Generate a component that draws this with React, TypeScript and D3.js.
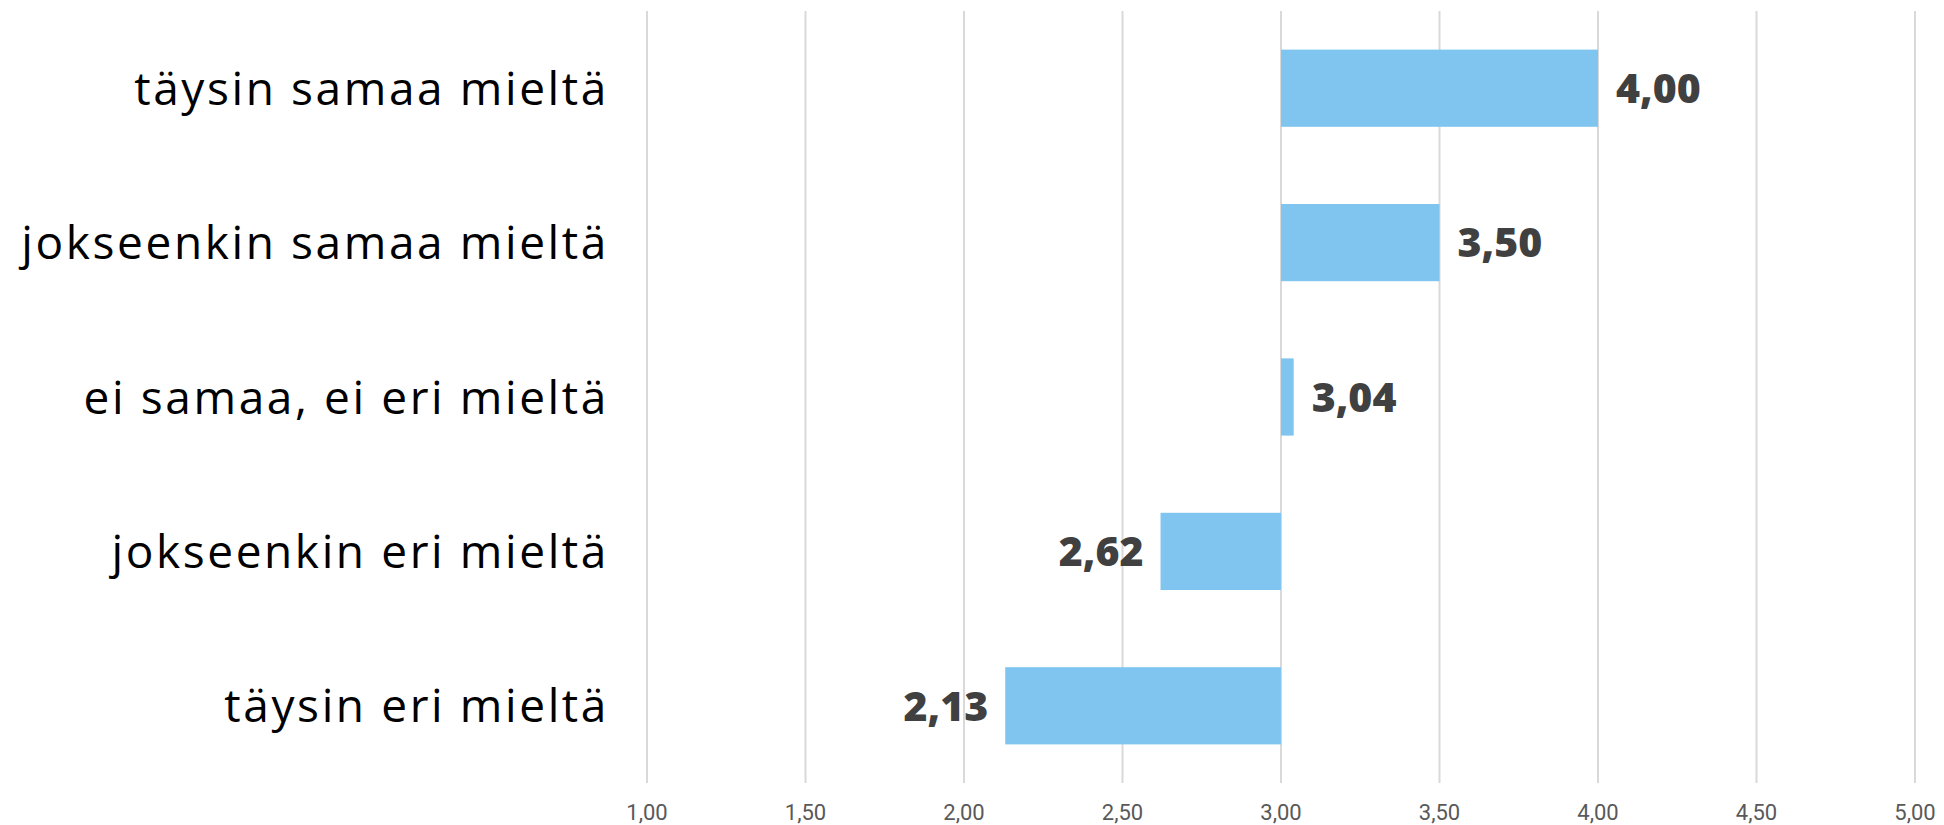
import React from "react";
import * as d3 from "d3";

const categories = [
  "täysin samaa mieltä",
  "jokseenkin samaa mieltä",
  "ei samaa, ei eri mieltä",
  "jokseenkin eri mieltä",
  "täysin eri mieltä",
];
const values = [4.0, 3.5, 3.04, 2.62, 2.13];
const baseline = 3.0;
const xTicks = [1.0, 1.5, 2.0, 2.5, 3.0, 3.5, 4.0, 4.5, 5.0];

const W = 1944;
const H = 825;
const plotLeft = 647;
const plotRight = 1915;
const plotTop = 11;
const plotBottom = 783;

const fmt = (v: number) => d3.format(".2f")(v).replace(".", ",");

export default function App() {
  const x = d3.scaleLinear().domain([1, 5]).range([plotLeft, plotRight]);
  const y = d3
    .scaleBand<string>()
    .domain(categories)
    .range([plotTop, plotBottom])
    .paddingInner(0.5)
    .paddingOuter(0.25);

  return (
    <svg
      width={W}
      height={H}
      style={{ position: "absolute", left: 0, top: 0, background: "#fff" }}
    >
      {xTicks.map((t) => (
        <line
          key={"g" + t}
          x1={x(t)}
          x2={x(t)}
          y1={plotTop}
          y2={plotBottom}
          stroke="#d9d9d9"
          strokeWidth={2}
        />
      ))}
      {xTicks.map((t) => (
        <text
          key={"t" + t}
          x={x(t)}
          y={820}
          textAnchor="middle"
          fontFamily="Roboto, 'Open Sans', sans-serif"
          fontSize={22}
          fill="#595959"
        >
          {fmt(t)}
        </text>
      ))}
      {categories.map((c, i) => {
        const v = values[i];
        const x0 = x(Math.min(v, baseline));
        const x1 = x(Math.max(v, baseline));
        const yc = (y(c) as number) + y.bandwidth() / 2;
        const pos = v >= baseline;
        return (
          <g key={c}>
            <rect
              x={x0}
              y={y(c)}
              width={x1 - x0}
              height={y.bandwidth()}
              fill="#7fc5ef"
            />
            <text
              x={pos ? x1 + 18 : x0 - 17}
              y={yc}
              dy="0.36em"
              textAnchor={pos ? "start" : "end"}
              fontFamily="'Open Sans', sans-serif"
              fontWeight={800}
              fontSize={41}
              fill="#404040"
            >
              {fmt(v)}
            </text>
            <text
              x={609}
              y={yc}
              dy="0.36em"
              textAnchor="end"
              fontFamily="'Open Sans', sans-serif"
              fontSize={46}
              letterSpacing={2.6}
              fill="#000"
            >
              {c}
            </text>
          </g>
        );
      })}
    </svg>
  );
}
